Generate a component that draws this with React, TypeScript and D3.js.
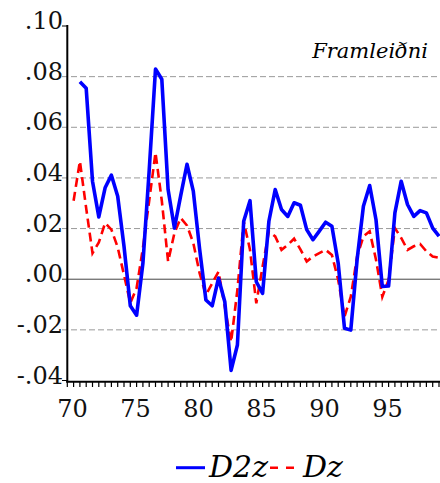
import React, { useEffect, useRef } from "react";
import * as d3 from "d3";

// half-year observations, first one at 1970.0
const startYear = 1970;
const dz = [
  0.031, 0.0466, 0.028, 0.0103, 0.0145, 0.0222, 0.0196, 0.0126, 0.0017, -0.0094,
  -0.0035, 0.0123, 0.031, 0.05, 0.031, 0.007, 0.0182, 0.0242, 0.0212, 0.0143,
  0.0024, -0.0062, -0.0016, 0.003, -0.0109, -0.0248, -0.0042, 0.0229, 0.0116, -0.0095,
  0.005, 0.0189, 0.0169, 0.0116, 0.0136, 0.016, 0.0118, 0.007, 0.009, 0.0103,
  0.0116, 0.0096, -0.0003, -0.0148, -0.0069, 0.009, 0.0169, 0.0189, 0.0077, -0.0069,
  -0.0003, 0.0202, 0.0163, 0.0116, 0.013, 0.0139, 0.011, 0.009, 0.0085,
];
const d2z = [
  null, 0.078, 0.0754, 0.0387, 0.0246, 0.0361, 0.0411, 0.0328, 0.013, -0.0105,
  -0.0142, 0.0063, 0.043, 0.083, 0.079, 0.0354, 0.0202, 0.033, 0.0454, 0.0348,
  0.012, -0.0082, -0.0105, 0.0004, -0.0089, -0.036, -0.026, 0.0229, 0.031, -0.001,
  -0.0056, 0.0229, 0.0354, 0.0275, 0.0248, 0.0302, 0.0292, 0.0196, 0.0156, 0.019,
  0.0225, 0.0209, 0.0063, -0.0194, -0.0201, 0.0077, 0.0288, 0.037, 0.0235, -0.0029,
  -0.0027, 0.0262, 0.0387, 0.0295, 0.0248, 0.0271, 0.0262, 0.0202, 0.017,
];
const yTicks = [-0.04, -0.02, 0, 0.02, 0.04, 0.06, 0.08, 0.1];
const xLabels = [1970, 1975, 1980, 1985, 1990, 1995];
const title = "Framleiðni";

const W = 440;
const H = 483;

const App = () => {
  const ref = useRef(null);

  useEffect(() => {
    const svg = d3.select(ref.current);
    svg.selectAll("*").remove();

    const x = d3.scaleLinear().domain([1969.5, 1999.5]).range([67.3, 445.3]);
    const y = d3.scaleLinear().domain([-0.04, 0.1]).range([380.5, 26]);
    const fmt = v => (v < 0 ? "-" : "") + d3.format(".2f")(Math.abs(v)).replace(/^0/, "");

    // grid
    svg
      .append("g")
      .selectAll("line")
      .data(yTicks.filter(t => t !== 0 && t < 0.099 && t > -0.039))
      .enter()
      .append("line")
      .attr("x1", 62)
      .attr("x2", W)
      .attr("y1", d => y(d))
      .attr("y2", d => y(d))
      .attr("stroke", "#999")
      .attr("stroke-width", 1)
      .attr("stroke-dasharray", "6,3");

    svg
      .append("line")
      .attr("x1", 62)
      .attr("x2", W)
      .attr("y1", y(0))
      .attr("y2", y(0))
      .attr("stroke", "#444")
      .attr("stroke-width", 1);

    // y ticks + labels
    const yg = svg.append("g");
    yg.selectAll("line")
      .data([0.1, -0.04])
      .enter()
      .append("line")
      .attr("x1", 62)
      .attr("x2", 67)
      .attr("y1", d => y(d))
      .attr("y2", d => y(d))
      .attr("stroke", "#000");
    yg.selectAll("text")
      .data(yTicks)
      .enter()
      .append("text")
      .attr("x", 63)
      .attr("y", d => y(d) + 3)
      .attr("text-anchor", "end")
      .attr("font-family", "DejaVu Serif")
      .attr("font-size", 24)
      .attr("fill", "#111")
      .text(fmt);

    // x ticks + labels
    const halfYears = d3.range(1969.5, 1999.6, 0.5);
    svg
      .append("g")
      .selectAll("line")
      .data(halfYears)
      .enter()
      .append("line")
      .attr("x1", d => x(d))
      .attr("x2", d => x(d))
      .attr("y1", 381)
      .attr("y2", 387)
      .attr("stroke", "#000")
      .attr("stroke-width", 1.2);
    svg
      .append("g")
      .selectAll("text")
      .data(xLabels)
      .enter()
      .append("text")
      .attr("x", d => x(d) - 1)
      .attr("y", 417)
      .attr("text-anchor", "middle")
      .attr("font-family", "DejaVu Serif")
      .attr("font-size", 24)
      .attr("fill", "#111")
      .text(d => String(d).slice(2));

    // axes
    svg.append("line").attr("x1", 67.3).attr("x2", 67.3).attr("y1", 25).attr("y2", 382.5)
      .attr("stroke", "#000").attr("stroke-width", 2);
    svg.append("line").attr("x1", 66.3).attr("x2", W).attr("y1", 381.7).attr("y2", 381.7)
      .attr("stroke", "#000").attr("stroke-width", 2);

    // series
    const line = d3
      .line()
      .defined(d => d[1] !== null)
      .x(d => x(d[0]))
      .y(d => y(d[1]));
    const toPts = arr => arr.map((v, i) => [startYear + i * 0.5, v]);

    svg.append("path")
      .attr("d", line(toPts(dz)))
      .attr("fill", "none")
      .attr("stroke", "#ff0000")
      .attr("stroke-width", 2.6)
      .attr("stroke-dasharray", "9,5");

    svg.append("path")
      .attr("d", line(toPts(d2z)))
      .attr("fill", "none")
      .attr("stroke", "#0000ff")
      .attr("stroke-width", 3.6)
      .attr("stroke-linejoin", "round");

    // title
    svg.append("text")
      .attr("x", 428)
      .attr("y", 58)
      .attr("text-anchor", "end")
      .attr("font-family", "DejaVu Serif")
      .attr("font-style", "italic")
      .attr("font-size", 21)
      .attr("fill", "#000")
      .text(title);

    // legend
    const lg = svg.append("g");
    lg.append("line").attr("x1", 176).attr("x2", 205).attr("y1", 467.7).attr("y2", 467.7)
      .attr("stroke", "#0000ff").attr("stroke-width", 3);
    lg.append("text").attr("x", 209).attr("y", 477)
      .attr("font-family", "DejaVu Serif").attr("font-style", "italic").attr("font-size", 30)
      .text("D2z");
    lg.append("line").attr("x1", 270).attr("x2", 294).attr("y1", 467.7).attr("y2", 467.7)
      .attr("stroke", "#ff0000").attr("stroke-width", 2.6).attr("stroke-dasharray", "8,8");
    lg.append("text").attr("x", 303).attr("y", 477)
      .attr("font-family", "DejaVu Serif").attr("font-style", "italic").attr("font-size", 30)
      .text("Dz");
  }, []);

  return (
    <svg
      ref={ref}
      width={W}
      height={H}
      style={{ position: "absolute", left: 0, top: 0, background: "#fff" }}
    />
  );
};

export default App;
